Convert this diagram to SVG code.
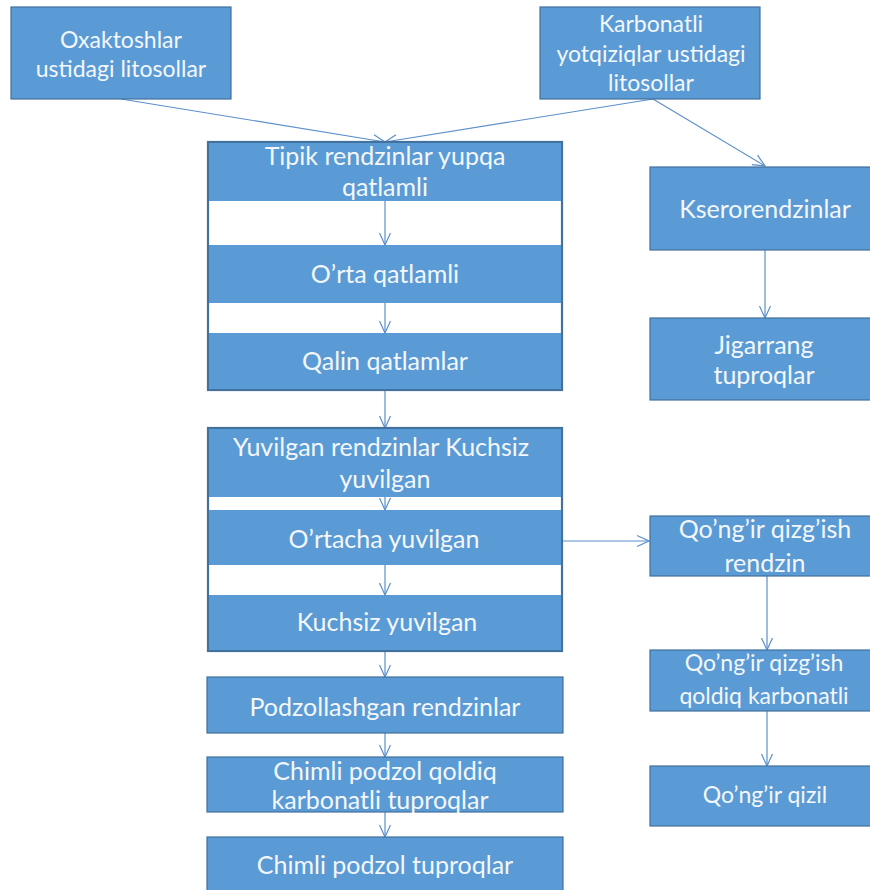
<svg xmlns="http://www.w3.org/2000/svg" width="870" height="890" viewBox="0 0 870 890">
<defs>
<marker id="arr" viewBox="0 0 14 14" refX="13" refY="7" markerWidth="14" markerHeight="14" markerUnits="userSpaceOnUse" orient="auto">
<path d="M1,1.5 L13,7 L1,12.5" fill="none" stroke="#5B8FCB" stroke-width="1.2"/>
</marker>
<style>
.box{fill:#5B9BD5;stroke:#41719C;stroke-width:1.2}
.inner{fill:#5B9BD5;stroke:none}
.grp{fill:#FFFFFF;stroke:#41719C;stroke-width:2.2}
.t{font-family:Lato,"Open Sans",sans-serif;font-size:25px;fill:#F3F7FC;text-anchor:middle}
.s{font-size:23px}
.c{fill:none;stroke:#5B8FCB;stroke-width:1.2;marker-end:url(#arr)}
</style>
</defs>
<rect width="870" height="890" fill="#FFFFFF"/>
<g id="connectors">
<line class="c" x1="121" y1="99" x2="385" y2="142"/>
<line class="c" x1="653" y1="99" x2="385" y2="142"/>
<line class="c" x1="653" y1="99" x2="765" y2="166"/>
<line class="c" x1="765" y1="250" x2="765" y2="318"/>
<line class="c" x1="385" y1="390" x2="385" y2="428"/>
<line class="c" x1="563" y1="541" x2="649" y2="541"/>
<line class="c" x1="767" y1="576" x2="767" y2="650"/>
<line class="c" x1="767" y1="711" x2="767" y2="766"/>
<line class="c" x1="385" y1="651" x2="385" y2="677"/>
<line class="c" x1="385" y1="733" x2="385" y2="757"/>
<line class="c" x1="385" y1="812" x2="385" y2="837"/>
</g>
<g id="n-oxaktoshlar">
<rect class="box" x="11" y="7" width="220" height="92"/>
<text class="t s" x="121" y="48">Oxaktoshlar</text>
<text class="t s" x="121" y="77">ustidagi litosollar</text>
</g>
<g id="n-karbonatli">
<rect class="box" x="540" y="7" width="220" height="92"/>
<text class="t s" x="651" y="32">Karbonatli</text>
<text class="t s" x="651" y="62">yotqiziqlar ustidagi</text>
<text class="t s" x="651" y="91">litosollar</text>
</g>
<g id="g-tipik">
<rect class="grp" x="208" y="142" width="354" height="248"/>
<g id="n-tipik">
<rect class="inner" x="209" y="143" width="352" height="58"/>
<text class="t" x="385" y="165">Tipik rendzinlar yupqa</text>
<text class="t" x="385" y="196">qatlamli</text>
</g>
<g id="n-orta">
<rect class="inner" x="209" y="245" width="352" height="58"/>
<text class="t" x="385" y="283">O’rta qatlamli</text>
</g>
<g id="n-qalin">
<rect class="inner" x="209" y="333" width="352" height="56"/>
<text class="t" x="385" y="370">Qalin qatlamlar</text>
</g>
<line class="c" x1="385" y1="201" x2="385" y2="245"/>
<line class="c" x1="385" y1="303" x2="385" y2="333"/>
</g>
<g id="n-kseror">
<rect class="box" x="650" y="167" width="230" height="83"/>
<text class="t" x="765" y="218">Kserorendzinlar</text>
</g>
<g id="n-jigarrang">
<rect class="box" x="650" y="318" width="230" height="82"/>
<text class="t" x="764" y="354">Jigarrang</text>
<text class="t" x="764" y="384">tuproqlar</text>
</g>
<g id="g-yuvilgan">
<rect class="grp" x="208" y="428" width="354" height="223"/>
<g id="n-yuvilgan">
<rect class="inner" x="209" y="429" width="352" height="68"/>
<text class="t" x="381" y="456">Yuvilgan rendzinlar Kuchsiz</text>
<text class="t" x="385" y="488">yuvilgan</text>
</g>
<g id="n-ortacha">
<rect class="inner" x="209" y="510" width="352" height="55"/>
<text class="t" x="384" y="548">O’rtacha yuvilgan</text>
</g>
<g id="n-kuchsiz">
<rect class="inner" x="209" y="595" width="352" height="55"/>
<text class="t" x="387" y="631">Kuchsiz yuvilgan</text>
</g>
<line class="c" x1="385" y1="497" x2="385" y2="510"/>
<line class="c" x1="385" y1="565" x2="385" y2="595"/>
</g>
<g id="n-qongir1">
<rect class="box" x="650" y="516" width="230" height="60"/>
<text class="t" x="765" y="538">Qo’ng’ir qizg’ish</text>
<text class="t" x="765" y="572">rendzin</text>
</g>
<g id="n-qongir2">
<rect class="box" x="650" y="650" width="230" height="61"/>
<text class="t s" x="764" y="671">Qo’ng’ir qizg’ish</text>
<text class="t s" x="764" y="704">qoldiq karbonatli</text>
</g>
<g id="n-qongir3">
<rect class="box" x="650" y="766" width="230" height="60"/>
<text class="t s" x="765" y="803">Qo’ng’ir qizil</text>
</g>
<g id="n-podzol">
<rect class="box" x="207" y="677" width="356" height="56"/>
<text class="t" x="385" y="716">Podzollashgan rendzinlar</text>
</g>
<g id="n-chimli1">
<rect class="box" x="207" y="757" width="356" height="55"/>
<text class="t" x="385" y="780">Chimli podzol qoldiq</text>
<text class="t" x="380" y="809">karbonatli tuproqlar</text>
</g>
<g id="n-chimli2">
<rect class="box" x="207" y="837" width="356" height="56"/>
<text class="t" x="385" y="874">Chimli podzol tuproqlar</text>
</g>
</svg>
